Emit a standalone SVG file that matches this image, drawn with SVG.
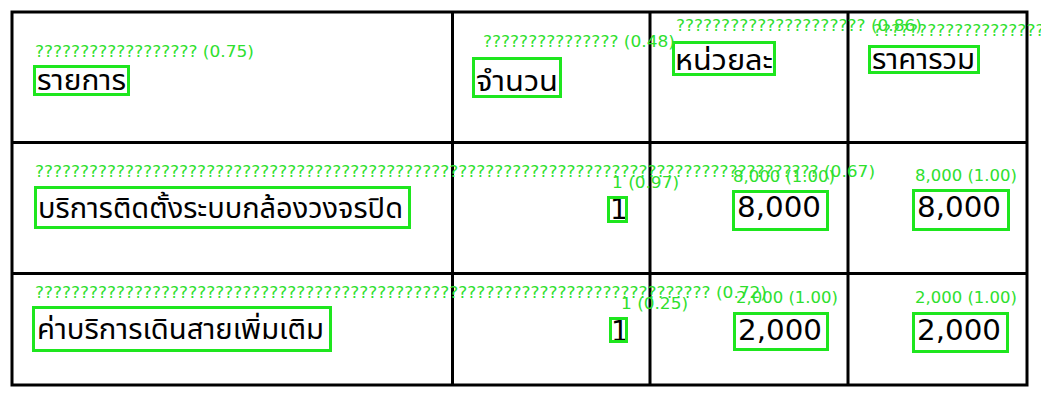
<svg xmlns="http://www.w3.org/2000/svg" width="1041" height="401" viewBox="0 0 1041 401">
<style>
.grid{fill:none;stroke:#000;stroke-width:3}
.box{fill:none;stroke:#1ee61e;stroke-width:3}
.lbl{font-family:"DejaVu Sans","Liberation Sans",sans-serif;font-size:15px;fill:#2ee02e}
.th{font-family:"Noto Sans Thai","Noto Sans","DejaVu Sans",sans-serif;font-size:28px;fill:#000}
.num{font-family:"DejaVu Sans","Noto Sans",sans-serif;font-size:28px;fill:#000}
</style>
<rect width="1041" height="401" fill="#fff"/>
<g id="table">
<rect class="grid" x="12" y="12" width="1015" height="373"/>
<line class="grid" x1="452.5" y1="12" x2="452.5" y2="385"/>
<line class="grid" x1="650" y1="12" x2="650" y2="385"/>
<line class="grid" x1="848" y1="12" x2="848" y2="385"/>
<line class="grid" x1="12" y1="142.5" x2="1027" y2="142.5"/>
<line class="grid" x1="12" y1="273.5" x2="1027" y2="273.5"/>
</g>
<g id="h1">
<text class="th" x="37" y="90" textLength="89" lengthAdjust="spacingAndGlyphs">รายการ</text>
<rect class="box" x="34.5" y="66.5" width="94" height="28"/>
</g>
<g id="h2">
<text class="th" x="476" y="91" textLength="82" lengthAdjust="spacingAndGlyphs">จำนวน</text>
<rect class="box" x="473.5" y="58.5" width="87" height="38"/>
</g>
<g id="h3">
<text class="th" x="675" y="70" textLength="98" lengthAdjust="spacingAndGlyphs">หน่วยละ</text>
<rect class="box" x="673.5" y="42.5" width="101" height="32"/>
</g>
<g id="h4">
<text class="th" x="872" y="69" textLength="103" lengthAdjust="spacingAndGlyphs">ราคารวม</text>
<rect class="box" x="869.5" y="46.5" width="109" height="26"/>
</g>
<g id="r1c1">
<text class="th" x="38" y="218" textLength="365" lengthAdjust="spacingAndGlyphs">บริการติดตั้งระบบกล้องวงจรปิด</text>
<rect class="box" x="35.5" y="187.5" width="374" height="40"/>
</g>
<g id="r1c2">
<text class="num" x="610" y="219">1</text>
<rect class="box" x="608.5" y="197.5" width="18" height="24"/>
</g>
<g id="r1c3">
<text class="num" x="737" y="217" textLength="84" lengthAdjust="spacingAndGlyphs">8,000</text>
<rect class="box" x="733.5" y="191.5" width="94" height="38"/>
</g>
<g id="r1c4">
<text class="num" x="917" y="217" textLength="84" lengthAdjust="spacingAndGlyphs">8,000</text>
<rect class="box" x="913.5" y="190.5" width="95" height="39"/>
</g>
<g id="r2c1">
<text class="th" x="37" y="339" textLength="287" lengthAdjust="spacingAndGlyphs">ค่าบริการเดินสายเพิ่มเติม</text>
<rect class="box" x="33.5" y="307.5" width="297" height="43"/>
</g>
<g id="r2c2">
<text class="num" x="611" y="341">1</text>
<rect class="box" x="610.5" y="318.5" width="16" height="23"/>
</g>
<g id="r2c3">
<text class="num" x="738" y="340" textLength="84" lengthAdjust="spacingAndGlyphs">2,000</text>
<rect class="box" x="734.5" y="313.5" width="93" height="36"/>
</g>
<g id="r2c4">
<text class="num" x="917" y="340" textLength="84" lengthAdjust="spacingAndGlyphs">2,000</text>
<rect class="box" x="913.5" y="313.5" width="94" height="38"/>
</g>
<g id="labels">
<text class="lbl" x="35" y="57" textLength="219" lengthAdjust="spacingAndGlyphs">?????????????????? (0.75)</text>
<text class="lbl" x="483" y="47" textLength="192" lengthAdjust="spacingAndGlyphs">??????????????? (0.48)</text>
<text class="lbl" x="676" y="31" textLength="246" lengthAdjust="spacingAndGlyphs">????????????????????? (0.86)</text>
<text class="lbl" x="873" y="36" textLength="246" lengthAdjust="spacingAndGlyphs">????????????????????? (0.74)</text>
<text class="lbl" x="35" y="177" textLength="840" lengthAdjust="spacingAndGlyphs">??????????????????????????????????????????????????????????????????????????????????????? (0.67)</text>
<text class="lbl" x="612" y="188" textLength="67" lengthAdjust="spacingAndGlyphs">1 (0.97)</text>
<text class="lbl" x="733" y="182" textLength="102" lengthAdjust="spacingAndGlyphs">8,000 (1.00)</text>
<text class="lbl" x="915" y="181" textLength="102" lengthAdjust="spacingAndGlyphs">8,000 (1.00)</text>
<text class="lbl" x="35" y="298" textLength="732" lengthAdjust="spacingAndGlyphs">??????????????????????????????????????????????????????????????????????????? (0.72)</text>
<text class="lbl" x="621" y="309" textLength="67" lengthAdjust="spacingAndGlyphs">1 (0.25)</text>
<text class="lbl" x="736" y="303" textLength="102" lengthAdjust="spacingAndGlyphs">2,000 (1.00)</text>
<text class="lbl" x="915" y="303" textLength="102" lengthAdjust="spacingAndGlyphs">2,000 (1.00)</text>
</g>
</svg>
